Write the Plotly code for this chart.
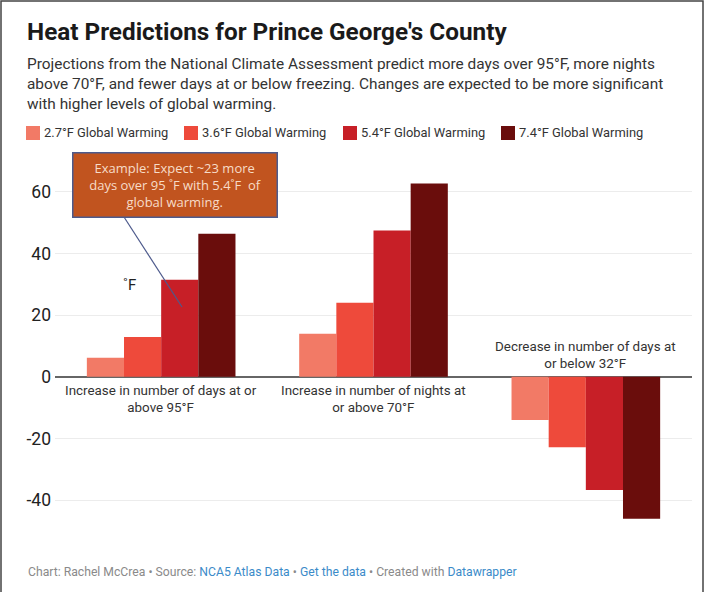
import plotly.graph_objects as go

# ---- data ----
categories = ["Increase in number of days at or above 95°F",
              "Increase in number of nights at or above 70°F",
              "Decrease in number of days at or below 32°F"]
category_labels = ["Increase in number of days at or<br>above 95°F",
                   "Increase in number of nights at<br>or above 70°F",
                   "Decrease in number of days at<br>or below 32°F"]
series_names = ["2.7°F Global Warming", "3.6°F Global Warming",
                "5.4°F Global Warming", "7.4°F Global Warming"]
warming_27 = [6.2, 14.0, -14.0]
warming_36 = [12.9, 24.0, -22.8]
warming_54 = [31.5, 47.5, -36.7]
warming_74 = [46.4, 62.7, -46.0]
series_values = [warming_27, warming_36, warming_54, warming_74]
colors = ["#f27a66", "#ee4a3b", "#c71f27", "#6a0d0c"]
y_ticks = [-40, -20, 0, 20, 40, 60]

W, H = 705, 592
L, R, T, B = 55, 13, 161, 61
PW, PH = W - L - R, H - T - B

def px(x):
    return (x - L) / PW

def py(y):
    return 1 - (y - T) / PH

FONT = "Roboto, 'Open Sans', sans-serif"

fig = go.Figure()
for name, vals, col in zip(series_names, series_values, colors):
    fig.add_trace(go.Bar(x=categories, y=vals, name=name, marker_color=col,
                         marker_line_width=0, showlegend=False))

annotations = []
shapes = []

# Title / subtitle / footer
annotations.append(dict(xref="paper", yref="paper", x=px(25), y=py(31), xanchor="left", yanchor="middle",
                        text="<b>Heat Predictions for Prince George's County</b>", showarrow=False,
                        font=dict(family=FONT, size=24.3, color="#1a1a1a")))
annotations.append(dict(xref="paper", yref="paper", x=px(25), y=py(53), xanchor="left", yanchor="top",
                        align="left", showarrow=False,
                        text="Projections from the National Climate Assessment predict more days over 95°F, more nights<br>"
                             "above 70°F, and fewer days at or below freezing. Changes are expected to be more significant<br>"
                             "with higher levels of global warming.",
                        font=dict(family=FONT, size=15.4, color="#333333")))
annotations.append(dict(xref="paper", yref="paper", x=px(26), y=py(572), xanchor="left", yanchor="middle",
                        showarrow=False,
                        text="Chart: Rachel McCrea • Source: <span style='color:#3b8bc9'>NCA5 Atlas Data</span> • "
                             "<span style='color:#3b8bc9'>Get the data</span> • Created with "
                             "<span style='color:#3b8bc9'>Datawrapper</span>",
                        font=dict(family=FONT, size=12.2, color="#8a8a8a")))

# Custom legend
leg_x = [26, 184, 343, 501]
for xx, name, col in zip(leg_x, series_names, colors):
    shapes.append(dict(type="rect", xref="paper", yref="paper", x0=px(xx), x1=px(xx + 14),
                       y0=py(126), y1=py(140), fillcolor=col, line_width=0))
    annotations.append(dict(xref="paper", yref="paper", x=px(xx + 16), y=py(133), xanchor="left",
                            yanchor="middle", text=name, showarrow=False,
                            font=dict(family=FONT, size=12.9, color="#333333")))

# Category labels
for i, (cat, lab) in enumerate(zip(categories, category_labels)):
    neg = series_values[0][i] < 0
    annotations.append(dict(x=cat, y=0, xref="x", yref="y", text=lab, showarrow=False,
                            yanchor="bottom" if neg else "top", yshift=4 if neg else -4,
                            font=dict(family=FONT, size=13.4, color="#333333")))

# Example callout
annotations.append(dict(xref="paper", yref="paper", x=px(174.5), y=py(184.5), xanchor="center", yanchor="middle",
                        text="Example: Expect ~23 more<br>days over 95 ˚F with 5.4˚F  of<br>global warming.",
                        showarrow=False, bgcolor="#c1541f", bordercolor="#4d5a8c", borderwidth=1.5,
                        borderpad=5, width=193, height=53,
                        font=dict(family="'Open Sans', 'Noto Sans', sans-serif", size=13, color="#f7dcc8")))
shapes.append(dict(type="line", xref="paper", yref="paper", x0=px(124), y0=py(217), x1=px(182), y1=py(307),
                   line=dict(color="#4d5a8c", width=1.2)))
annotations.append(dict(xref="paper", yref="paper", x=px(121), y=py(285), text="˚F", showarrow=False,
                        font=dict(family=FONT, size=15, color="#222222")))

# Frame
shapes.append(dict(type="rect", xref="paper", yref="paper", x0=px(1), x1=px(703), y0=py(1), y1=py(600),
                   line=dict(color="#444444", width=1.5), fillcolor="rgba(0,0,0,0)", layer="above"))

fig.update_layout(
    width=W, height=H,
    margin=dict(l=L, r=R, t=T, b=B),
    paper_bgcolor="white", plot_bgcolor="white",
    barmode="group", bargap=0.3, bargroupgap=0,
    showlegend=False,
    annotations=annotations, shapes=shapes,
    xaxis=dict(showticklabels=False, showgrid=False, zeroline=False, showline=False, ticks=""),
    yaxis=dict(range=[-50, 70], tickvals=y_ticks, ticktext=[str(v) for v in y_ticks],
               showgrid=True, gridcolor="#ececec", gridwidth=1,
               zeroline=True, zerolinecolor="#666666", zerolinewidth=1.5,
               tickfont=dict(family=FONT, size=17.5, color="#222222"), ticks="", ticklabelstandoff=3),
    font=dict(family=FONT),
)

fig.write_html("out.html", config={"displayModeBar": False},
               post_script="document.body.style.margin='0';document.body.style.padding='0';")
